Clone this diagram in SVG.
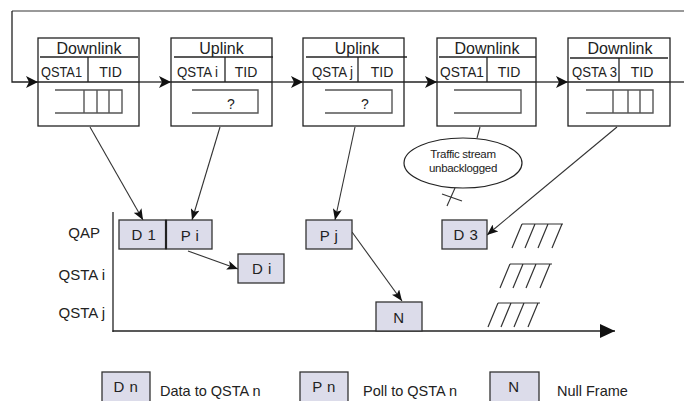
<svg xmlns="http://www.w3.org/2000/svg" width="684" height="401" viewBox="0 0 684 401">
<style>
text{font-family:"Liberation Sans",Arial,sans-serif;fill:#222}
.box{fill:#fff;stroke:#222;stroke-width:1.3}
.ln{fill:none;stroke:#222;stroke-width:1.3}
.q{fill:none;stroke:#555;stroke-width:1.4}
.hd{font-size:16px;text-anchor:middle}
.r2{font-size:14px}
.tid{font-size:14px;text-anchor:middle}
.fr{fill:#dcdcea;stroke:#333;stroke-width:1.3}
.ft{font-size:15px;text-anchor:middle;letter-spacing:0.5px}
.lab{font-size:15px;text-anchor:end}
.con{fill:none;stroke:#333;stroke-width:1.1}
.hatch{fill:none;stroke:#333;stroke-width:1.2}
.leg{font-size:14.5px}
</style>
<defs>
<marker id="big" markerUnits="userSpaceOnUse" markerWidth="12" markerHeight="12" refX="12" refY="6" orient="auto">
<path d="M0,0 L12,6 L0,12 L3,6 z" fill="#111"/>
</marker>
<marker id="arr" markerUnits="userSpaceOnUse" markerWidth="11" markerHeight="9" refX="11" refY="4.5" orient="auto">
<path d="M0,0 L11,4.5 L0,9 L2.5,4.5 z" fill="#111"/>
</marker>
<marker id="axis" markerUnits="userSpaceOnUse" markerWidth="16" markerHeight="16" refX="15" refY="8" orient="auto">
<path d="M0,1 L15,8 L0,15 z" fill="#111"/>
</marker>
</defs>

<g id="connectors">
<line x1="12" y1="11" x2="684" y2="11" stroke="#777" stroke-width="1.6"/>
<path class="ln" d="M12,11 V82 H38" marker-end="url(#big)"/>
<line class="ln" x1="139" y1="82" x2="171" y2="82" marker-end="url(#big)"/>
<line class="ln" x1="272" y1="82" x2="303" y2="82" marker-end="url(#big)"/>
<line class="ln" x1="404" y1="82" x2="437" y2="82" marker-end="url(#big)"/>
<line class="ln" x1="536" y1="82" x2="568" y2="82" marker-end="url(#big)"/>
<line class="ln" x1="670" y1="82" x2="684" y2="82"/>
<line class="con" x1="90" y1="127" x2="143" y2="220" marker-end="url(#arr)"/>
<line class="con" x1="220" y1="127" x2="192" y2="220" marker-end="url(#arr)"/>
<line class="con" x1="355" y1="127" x2="335" y2="220" marker-end="url(#arr)"/>
<line class="con" x1="617" y1="127" x2="487" y2="235" marker-end="url(#arr)"/>
<line class="con" x1="480" y1="127" x2="477" y2="138"/>
<line class="con" x1="188" y1="251" x2="238" y2="269" marker-end="url(#arr)"/>
<line class="con" x1="352" y1="232" x2="402" y2="301" marker-end="url(#arr)"/>
<line class="con" x1="455" y1="188" x2="447" y2="206"/>
<line class="con" x1="442" y1="194" x2="462" y2="201"/>
</g>

<g id="frame1">
<rect class="box" x="38" y="38" width="101" height="88"/>
<line class="ln" x1="40" y1="57" x2="138" y2="57"/>
<line class="ln" x1="88" y1="57" x2="88" y2="82"/>
<line class="ln" x1="38" y1="82" x2="139" y2="82"/>
<text class="hd" x="89" y="54">Downlink</text>
<text class="r2" x="41" y="77" textLength="41" lengthAdjust="spacingAndGlyphs">QSTA1</text>
<text class="tid" x="110.5" y="77">TID</text>
<path class="q" d="M55,90 H122 V113 H55 M84,90 V113 M97,90 V113 M109,90 V113"/>
</g>

<g id="frame2">
<rect class="box" x="171" y="38" width="101" height="88"/>
<line class="ln" x1="174" y1="57" x2="273" y2="57"/>
<line class="ln" x1="225" y1="57" x2="225" y2="82"/>
<line class="ln" x1="171" y1="82" x2="272" y2="82"/>
<text class="hd" x="221.5" y="54">Uplink</text>
<text class="r2" x="177" y="77" textLength="41" lengthAdjust="spacingAndGlyphs">QSTA i</text>
<text class="tid" x="246" y="77">TID</text>
<path class="q" d="M192,90 H258 V113 H192"/>
<text class="tid" x="231" y="109" font-size="14">?</text>
</g>

<g id="frame3">
<rect class="box" x="303" y="38" width="101" height="88"/>
<line class="ln" x1="306" y1="57" x2="407" y2="57"/>
<line class="ln" x1="358" y1="57" x2="358" y2="82"/>
<line class="ln" x1="303" y1="82" x2="404" y2="82"/>
<text class="hd" x="357" y="54">Uplink</text>
<text class="r2" x="312" y="77" textLength="41" lengthAdjust="spacingAndGlyphs">QSTA j</text>
<text class="tid" x="382" y="77">TID</text>
<path class="q" d="M325,90 H392 V113 H325"/>
<text class="tid" x="365" y="109" font-size="14">?</text>
</g>

<g id="frame4">
<rect class="box" x="437" y="38" width="99" height="88"/>
<line class="ln" x1="439" y1="57" x2="536" y2="57"/>
<line class="ln" x1="487" y1="57" x2="487" y2="82"/>
<line class="ln" x1="437" y1="82" x2="536" y2="82"/>
<text class="hd" x="487" y="54">Downlink</text>
<text class="r2" x="440" y="77" textLength="44" lengthAdjust="spacingAndGlyphs">QSTA1</text>
<text class="tid" x="509" y="77">TID</text>
<path class="q" d="M454,90 H521 V113 H454"/>
</g>

<g id="frame5">
<rect class="box" x="568" y="38" width="102" height="88"/>
<line class="ln" x1="570" y1="58" x2="668" y2="58"/>
<line class="ln" x1="619" y1="58" x2="619" y2="82"/>
<line class="ln" x1="568" y1="82" x2="670" y2="82"/>
<text class="hd" x="620" y="54">Downlink</text>
<text class="r2" x="572" y="77" textLength="45" lengthAdjust="spacingAndGlyphs">QSTA 3</text>
<text class="tid" x="642" y="77">TID</text>
<path class="q" d="M586,90 H653 V113 H586 M613,90 V113 M628,90 V113 M640,90 V113"/>
</g>

<g id="note">
<ellipse cx="463" cy="163" rx="59" ry="25" fill="#fff" stroke="#222" stroke-width="1.2"/>
<text x="463" y="158" font-size="11.5" text-anchor="middle" letter-spacing="-0.3">Traffic stream</text>
<text x="463" y="172" font-size="11.5" text-anchor="middle" letter-spacing="-0.3">unbacklogged</text>
</g>

<g id="axes">
<line class="ln" x1="113" y1="212" x2="113" y2="332"/>
<line class="ln" x1="112.5" y1="331" x2="615" y2="331" marker-end="url(#axis)"/>
<text class="lab" x="100" y="238">QAP</text>
<text class="lab" x="105" y="280">QSTA i</text>
<text class="lab" x="105" y="318">QSTA j</text>
</g>

<g id="D1"><rect class="fr" x="119" y="220" width="47" height="29"/><text class="ft" x="144" y="240">D 1</text></g>
<g id="Pi"><rect class="fr" x="166" y="220" width="46" height="29"/><text class="ft" x="190" y="241">P i</text></g>
<line x1="166" y1="220" x2="166" y2="249" stroke="#222" stroke-width="2.2"/>
<g id="Di"><rect class="fr" x="238" y="254" width="46" height="29"/><text class="ft" x="262" y="274">D i</text></g>
<g id="Pj"><rect class="fr" x="306" y="220" width="46" height="29"/><text class="ft" x="329" y="241">P j</text></g>
<g id="N"><rect class="fr" x="376" y="302" width="46" height="29"/><text class="ft" x="399" y="323">N</text></g>
<g id="D3"><rect class="fr" x="442" y="220" width="45" height="29"/><text class="ft" x="466" y="240">D 3</text></g>

<g id="hatches">
<path class="hatch" d="M522,224 H563 M522,224 L512,248 M535,224 L525,248 M548,224 L538,248 M562,224 L552,248"/>
<path class="hatch" d="M510,264 H552 M510,264 L500,288 M523,264 L513,288 M536,264 L526,288 M550,264 L540,288"/>
<path class="hatch" d="M498,303 H540 M498,303 L488,327 M511,303 L501,327 M524,303 L514,327 M538,303 L528,327"/>
</g>

<g id="legend">
<rect class="fr" x="102" y="372" width="48" height="36"/>
<text class="ft" x="126" y="392">D n</text>
<text class="leg" x="160" y="396">Data to QSTA n</text>
<rect class="fr" x="300" y="372" width="48" height="36"/>
<text class="ft" x="324" y="392">P n</text>
<text class="leg" x="363" y="396">Poll to QSTA n</text>
<rect class="fr" x="490" y="372" width="49" height="36"/>
<text class="ft" x="514" y="392">N</text>
<text class="leg" x="557" y="396">Null Frame</text>
</g>
</svg>
